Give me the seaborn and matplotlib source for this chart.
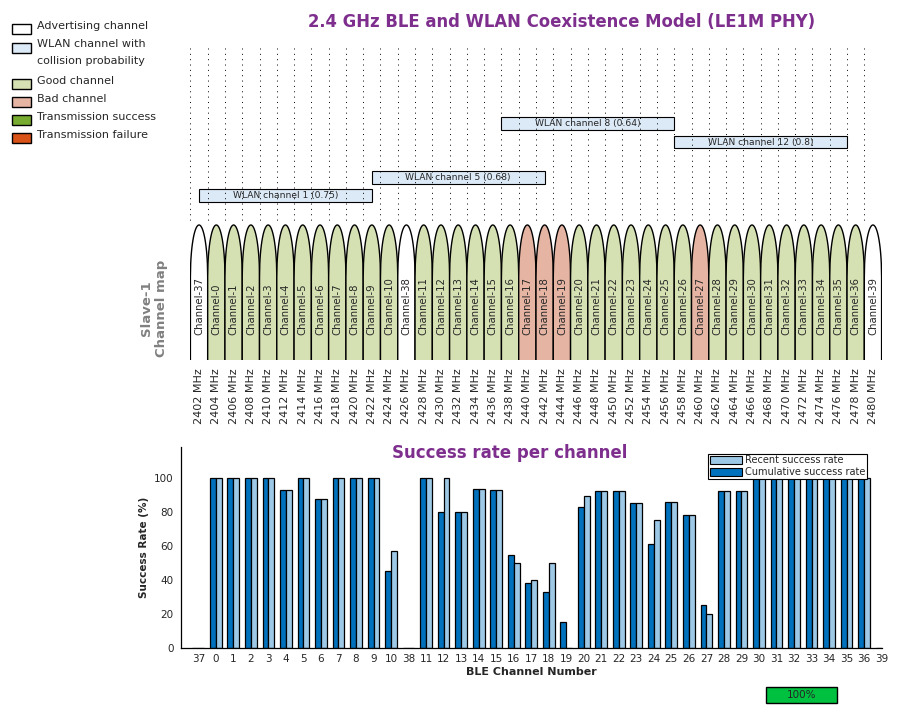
import numpy as np
import pandas as pd
import matplotlib
matplotlib.use('Agg')
from matplotlib import pyplot as plt
from matplotlib.patches import Rectangle, Polygon, Patch
import seaborn as sns

# ===================================================================
# Channel map data (frequency order)
# ===================================================================
channel_labels = ['37'] + [str(c) for c in range(0, 11)] + ['38'] + \
                 [str(c) for c in range(11, 37)] + ['39']
channel_freqs = list(range(2402, 2481, 2))
advertising_channels = ['37', '38', '39']
bad_channels = ['17', '18', '19', '27']

wlan_names = ['WLAN channel 1 (0.75)', 'WLAN channel 5 (0.68)',
              'WLAN channel 8 (0.64)', 'WLAN channel 12 (0.8)']
wlan_centers = [2412, 2432, 2447, 2467]
wlan_rows = [195.5, 177.5, 123.7, 142.0]   # drawing rows (pixels) of the boxes

# ===================================================================
# Success rate per channel (same order as channel_labels)
# ===================================================================
cumulative = [0, 100, 100, 100, 100, 93, 100, 88, 100, 100, 100, 45, 0,
              100, 80, 80, 94, 93, 55, 38, 33, 15, 83, 92.4, 92.4, 85.3,
              61, 86, 78.2, 25, 92.8, 92.8, 100, 100, 100, 100, 100, 100, 100, 0]
recent = [0, 100, 100, 100, 100, 93, 100, 88, 100, 100, 100, 57, 0,
          100, 100, 80, 94, 93, 50, 40, 50, 0, 89.5, 92.4, 92.4, 85.3,
          75.3, 86, 78.2, 20, 92.8, 92.8, 100, 100, 100, 100, 100, 100, 100, 0]
progress_text = '100%'

PURPLE = '#7e2f8e'
C_ADV = 'white'
C_WLAN = '#dce9f6'
C_GOOD = '#d5e1b3'
C_BAD = '#e6b4a3'
C_OK = '#77ac30'
C_FAIL = '#d95319'
C_CUM = '#0072bd'
C_REC = '#9dc8e6'
TXT = '#262626'

sns.set_style('white')
plt.rcParams['font.family'] = ['DejaVu Sans']

W, H = 900, 720
fig = plt.figure(figsize=(9, 7.2), dpi=100)


def px_rect(left, top, right, bottom):
    return [left / W, 1 - bottom / H, (right - left) / W, (bottom - top) / H]


# overlay in pixel coordinates for legend boxes and progress bar
ov = fig.add_axes([0, 0, 1, 1])
ov.set_xlim(0, W)
ov.set_ylim(H, 0)
ov.set_axis_off()

legend_items = [('Advertising channel', C_ADV, 28.8, 25.8),
                ('WLAN channel with\ncollision probability', C_WLAN, 48.3, 52.5),
                ('Good channel', C_GOOD, 84.2, 81.0),
                ('Bad channel', C_BAD, 102.3, 99.0),
                ('Transmission success', C_OK, 120.2, 117.0),
                ('Transmission failure', C_FAIL, 138.0, 135.0)]
for name, col, yb, yt in legend_items:
    ov.add_patch(Rectangle((12.3, yb - 5), 18.7, 10, fc=col, ec='black', lw=1))
    ov.text(37, yt, name, va='center', ha='left', fontsize=8, color=TXT,
            linespacing=1.9)

# progress bar
ov.add_patch(Rectangle((766, 687.3), 71, 15.3, fc='#00c040', ec='black', lw=1))
ov.text(801.5, 695.2, progress_text, ha='center', va='center', fontsize=7.5, color=TXT)

# ===================================================================
# Channel map
# ===================================================================
ax_map = fig.add_axes(px_rect(190.4, 40, 881.6, 430))
ax_map.set_xlim(2401, 2481)
ax_map.set_ylim(430, 40)
ax_map.set_axis_off()

edges = np.arange(2401, 2482, 2)
ax_map.vlines(edges, 48, 222, colors='black', linestyles=(0, (1, 4.5)),
              linewidth=0.7, zorder=2)

for name, c, row in zip(wlan_names, wlan_centers, wlan_rows):
    ax_map.add_patch(Rectangle((c - 10, row - 6.3), 20, 12.6, fc=C_WLAN,
                               ec='black', lw=0.8, zorder=1))
    ax_map.text(c, row, name, ha='center', va='center', fontsize=6.6,
                color=TXT, zorder=3)

u = np.linspace(-1, 1, 61)
for i, (lab, f) in enumerate(zip(channel_labels, channel_freqs)):
    if lab in advertising_channels:
        col = C_ADV
    elif lab in bad_channels:
        col = C_BAD
    else:
        col = C_GOOD
    cap_y = 277 - 52 * np.sqrt(1 - u ** 2)
    pts = [(f - 1, 360)] + list(zip(f + u, cap_y)) + [(f + 1, 360)]
    ax_map.add_patch(Polygon(pts, closed=False, fc=col, ec='black', lw=1,
                             zorder=4 + i * 0.01))
    ax_map.text(f, 335, f'Channel-{lab}', rotation=90, ha='center',
                va='bottom', fontsize=7.3, color=TXT, zorder=5)
    ax_map.text(f, 368, f'{f} MHz', rotation=90, ha='center', va='top',
                fontsize=8, color=TXT)

fig.text(154 / W, 1 - 308 / H, 'Slave-1\nChannel map', rotation=90,
         ha='center', va='center', fontsize=9.5, fontweight='bold',
         color='#808080', linespacing=1.15)

fig.text(562 / W, 1 - 22 / H, '2.4 GHz BLE and WLAN Coexistence Model (LE1M PHY)',
         ha='center', va='center', fontsize=11.9, fontweight='bold', color=PURPLE)

# ===================================================================
# Success rate per channel
# ===================================================================
CUM_LBL = 'Cumulative success rate'
REC_LBL = 'Recent success rate'
df = pd.DataFrame({
    'channel': channel_labels * 2,
    'rate': cumulative + recent,
    'type': [CUM_LBL] * len(channel_labels) + [REC_LBL] * len(channel_labels),
})

ax = fig.add_axes(px_rect(180.8, 447.2, 881.6, 647.5))
sns.barplot(data=df, x='channel', y='rate', hue='type', order=channel_labels,
            hue_order=[CUM_LBL, REC_LBL], palette=[C_CUM, C_REC], width=0.67,
            edgecolor='black', linewidth=0.9, errorbar=None, legend=False,
            saturation=1, ax=ax)
ax.set_xlim(-1, 39)
ax.set_ylim(0, 118.5)
ax.set_yticks(range(0, 101, 20))
sns.despine(ax=ax)
for s in ['left', 'bottom']:
    ax.spines[s].set_color('black')
    ax.spines[s].set_linewidth(0.9)
ax.tick_params(direction='in', length=5, width=0.8, labelsize=7.5,
               labelcolor=TXT, pad=5)
ax.tick_params(axis='y', length=0)
ax.set_xlabel('BLE Channel Number', fontsize=8, fontweight='bold', color=TXT,
              labelpad=2)
ax.set_ylabel('Success Rate (%)', fontsize=7.5, fontweight='bold', color=TXT,
              labelpad=4)

handles = [Patch(fc=C_REC, ec='black', lw=0.8), Patch(fc=C_CUM, ec='black', lw=0.8)]
leg = ax.legend(handles, [REC_LBL, CUM_LBL], loc='upper right',
                bbox_to_anchor=(867 / W, 1 - 453.5 / H),
                bbox_transform=fig.transFigure, fontsize=7, frameon=True,
                fancybox=False, framealpha=1, edgecolor='black',
                handlelength=3.3, handleheight=0.9, borderpad=0.2,
                labelspacing=0.15, handletextpad=0.3, borderaxespad=0)
leg.get_frame().set_linewidth(0.8)

fig.text(510 / W, 1 - 453 / H, 'Success rate per channel', ha='center',
         va='center', fontsize=12, fontweight='bold', color=PURPLE)

fig.savefig('out.png', dpi=100)
